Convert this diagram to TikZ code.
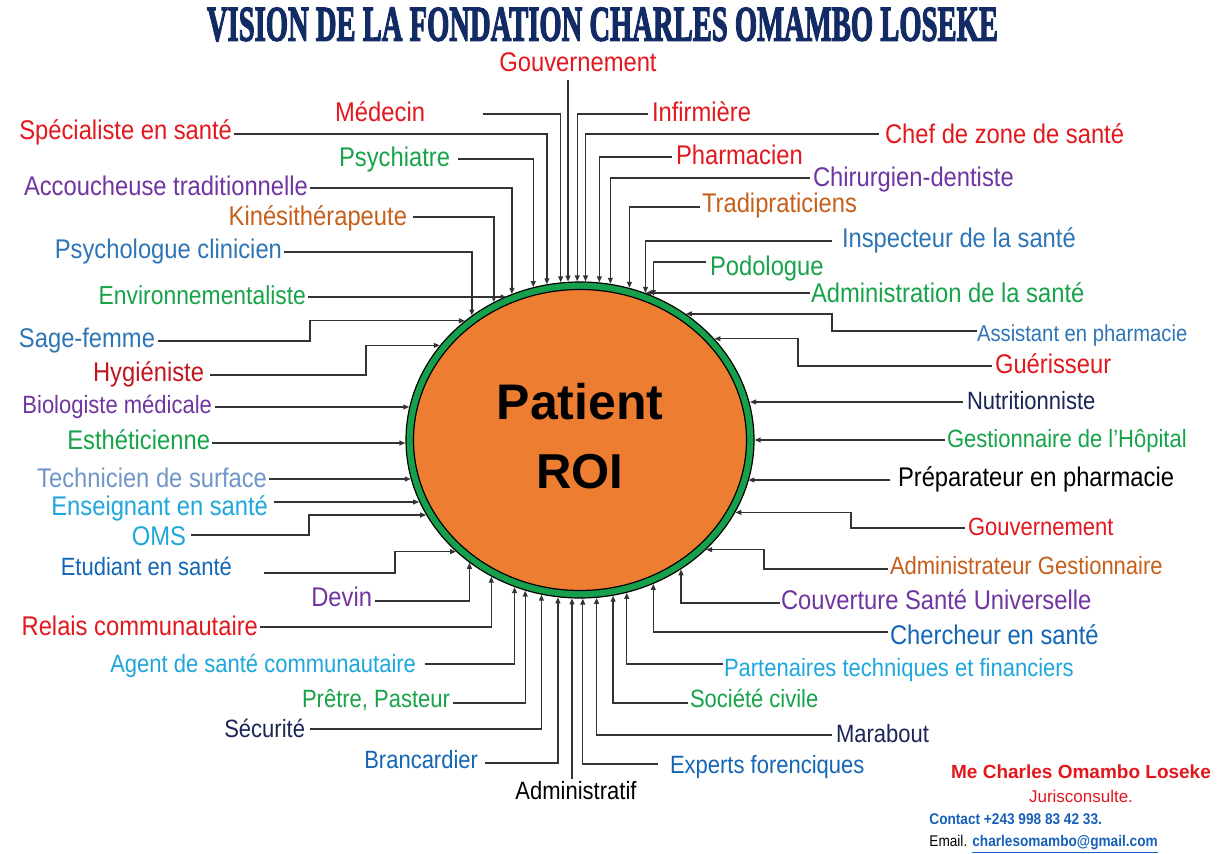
\documentclass[tikz,border=0pt]{standalone}
\usepackage{fontspec}
\usepackage{graphicx}
\setmainfont{Liberation Sans}
\newfontfamily\labfont{Liberation Sans}[FakeStretch=0.88]
\newfontfamily\titlefont{Liberation Serif}[FakeBold=3]
\usetikzlibrary{shapes.geometric,arrows.meta}
\definecolor{labred}{HTML}{E3171E}
\definecolor{labdarkred}{HTML}{C0161E}
\definecolor{labgreen}{HTML}{17A34A}
\definecolor{labpurple}{HTML}{7035A0}
\definecolor{laborange}{HTML}{C65F1C}
\definecolor{labsteel}{HTML}{2E75B6}
\definecolor{labblue}{HTML}{1366B5}
\definecolor{labcyan}{HTML}{1EA7DC}
\definecolor{labnavy}{HTML}{1B2656}
\definecolor{labtech}{HTML}{7095C8}
\definecolor{titleblue}{HTML}{132B64}
\definecolor{ringgreen}{HTML}{16A04B}
\definecolor{patorange}{HTML}{ED7D31}
\definecolor{contactblue}{HTML}{1760B8}
% angle of the ellipse border point (centre 580,440; radii 174,158 px)
\newcommand\angTop[1]{\pgfmathsetmacro\cang{mod(atan2(158*sqrt(1-((#1-580)/174)*((#1-580)/174)),#1-580)+360,360)}}
\newcommand\angBot[1]{\pgfmathsetmacro\cang{mod(atan2(-158*sqrt(1-((#1-580)/174)*((#1-580)/174)),#1-580)+360,360)}}
\newcommand\angLeft[1]{\pgfmathsetmacro\cang{mod(atan2(440-#1,-174*sqrt(1-((440-#1)/158)*((440-#1)/158)))+360,360)}}
\newcommand\angRight[1]{\pgfmathsetmacro\cang{mod(atan2(440-#1,174*sqrt(1-((440-#1)/158)*((440-#1)/158)))+360,360)}}
\tikzset{
  lab/.style={inner sep=0pt, outer sep=0pt, font=\labfont\fontsize{13.5pt}{16pt}\selectfont},
  labs/.style={inner sep=0pt, outer sep=0pt, font=\labfont\fontsize{12.5pt}{15pt}\selectfont},
  lft/.style={anchor=mid east},
  rgt/.style={anchor=mid west},
  arr/.style={draw=black!80, line width=0.7pt, -{Triangle[length=3pt,width=2.4pt]}},
}
\begin{document}
\begin{tikzpicture}[x=0.5pt,y=-0.5pt]
\useasboundingbox (0,0) rectangle (1225,854);
\fill[white] (0,0) rectangle (1225,854);
% title
\node[text=titleblue, inner sep=0pt] (title) at (602.5,24.5)
  {\resizebox{395.5pt}{16.5pt}{\titlefont\bfseries VISION DE LA FONDATION CHARLES OMAMBO LOSEKE}};
% patient
\node[ellipse, draw=black, line width=0.6pt, fill=ringgreen, minimum width=174pt, minimum height=158pt, inner sep=0pt] (patient) at (580,440) {};
\draw[fill=patorange, line width=0.6pt] (patient.center) ellipse [x radius=83.25pt, y radius=75.25pt];
\node[font=\fontsize{25pt}{30pt}\selectfont\bfseries] (pt) at (580,402) {Patient};
\node[font=\fontsize{24.5pt}{30pt}\selectfont\bfseries] (roi) at (580,472) {ROI};
% ---- labels top-left
\node[lab,lft,text=labred] (spec) at (232,134) {Spécialiste en santé};
\node[lab,lft,text=labred] (med) at (425,116) {Médecin};
\node[lab,lft,text=labgreen] (psy) at (450,161) {Psychiatre};
\node[lab,lft,text=labpurple] (acc) at (308,190) {Accoucheuse traditionnelle};
\node[lab,lft,text=laborange] (kin) at (407,220) {Kinésithérapeute};
\node[lab,lft,text=labsteel] (psc) at (282,253) {Psychologue clinicien};
\node[lab,lft,text=labgreen,font=\labfont\fontsize{13pt}{15pt}\selectfont] (env) at (306,299) {Environnementaliste};
% ---- top
\node[lab,text=labred,anchor=base] (gov1) at (578,72) {Gouvernement};
% ---- top-right
\node[lab,rgt,text=labred] (inf) at (652,116) {Infirmière};
\node[lab,rgt,text=labred] (chef) at (885,138) {Chef de zone de santé};
\node[lab,rgt,text=labred] (pha) at (676,159) {Pharmacien};
\node[lab,rgt,text=labpurple] (chi) at (813,181) {Chirurgien-dentiste};
\node[lab,rgt,text=laborange] (tra) at (702,207) {Tradipraticiens};
\node[lab,rgt,text=labsteel] (ins) at (842,242) {Inspecteur de la santé};
\node[lab,rgt,text=labgreen] (pod) at (710,270) {Podologue};
\node[lab,rgt,text=labgreen] (adm) at (811,297) {Administration de la santé};
% ---- right
\node[lab,rgt,text=labsteel,font=\labfont\fontsize{11.5pt}{14pt}\selectfont] (ast) at (977,336) {Assistant en pharmacie};
\node[lab,rgt,text=labred] (gue) at (995,368) {Guérisseur};
\node[labs,rgt,text=labnavy] (nut) at (967,404) {Nutritionniste};
\node[labs,rgt,text=labgreen] (ges) at (947,442) {Gestionnaire de l’Hôpital};
\node[lab,rgt,text=black] (pre) at (898,481) {Préparateur en pharmacie};
\node[labs,rgt,text=labred] (gov2) at (968,530) {Gouvernement};
\node[labs,rgt,text=laborange] (adg) at (890,569) {Administrateur Gestionnaire};
% ---- bottom-right
\node[lab,rgt,text=labpurple] (cou) at (781,604) {Couverture Santé Universelle};
\node[lab,rgt,text=labblue] (che) at (890,639) {Chercheur en santé};
\node[labs,rgt,text=labcyan] (par) at (724,671) {Partenaires techniques et financiers};
\node[labs,rgt,text=labgreen] (soc) at (690,702) {Société civile};
\node[labs,rgt,text=labnavy] (mar) at (836,737) {Marabout};
\node[labs,rgt,text=labblue] (exp) at (670,768) {Experts forenciques};
\node[labs,text=black,anchor=base] (adf) at (576,799) {Administratif};
% ---- bottom-left
\node[labs,lft,text=labblue] (bra) at (478,763) {Brancardier};
\node[labs,lft,text=labnavy] (sec) at (305,732) {Sécurité};
\node[labs,lft,text=labgreen] (pre2) at (450,702) {Prêtre, Pasteur};
\node[labs,lft,text=labcyan] (agc) at (416,667) {Agent de santé communautaire};
\node[lab,lft,text=labred] (rel) at (258,630) {Relais communautaire};
\node[lab,lft,text=labpurple] (dev) at (372,601) {Devin};
% ---- left
\node[labs,lft,text=labblue] (etu) at (232,570) {Etudiant en santé};
\node[lab,lft,text=labcyan] (oms) at (186,540) {OMS};
\node[lab,lft,text=labcyan] (ens) at (268,510) {Enseignant en santé};
\node[lab,lft,text=labtech] (tec) at (267,482) {Technicien de surface};
\node[lab,lft,text=labgreen] (est) at (210,444) {Esthéticienne};
\node[labs,lft,text=labpurple] (bio) at (212,408) {Biologiste médicale};
\node[lab,lft,text=labdarkred] (hyg) at (204,376) {Hygiéniste};
\node[lab,lft,text=labsteel] (sag) at (155,342) {Sage-femme};
% ================= connectors
% top-left
\angTop{546}\draw[arr] (spec.mid east) ++(2,0) -| (patient.\cang);
\angTop{558}\draw[arr] (med.mid east) ++(58,-2) -| (patient.\cang);
\angTop{533}\draw[arr] (psy.mid east) ++(8,-2) -| (patient.\cang);
\angTop{512}\draw[arr] (acc.mid east) ++(2,-2) -| (patient.\cang);
\angTop{492}\draw[arr] (kin.mid east) ++(6,-3) -| (patient.\cang);
\angTop{471}\draw[arr] (psc.mid east) ++(2,-1) -| (patient.\cang);
\angLeft{297}\draw[arr] (env.mid east) ++(2,-2) coordinate (s) -- (s -| patient.\cang);
% top
\angTop{568}\draw[arr] (gov1.base) ++(-10,8) coordinate (s) -- (s |- patient.\cang);
% top-right
\angTop{576}\draw[arr] (inf.mid west) ++(-4,-2) -| (patient.\cang);
\angTop{585}\draw[arr] (chef.mid west) ++(-6,-4) -| (patient.\cang);
\angTop{597}\draw[arr] (pha.mid west) ++(-4,-2) -| (patient.\cang);
\angTop{610}\draw[arr] (chi.mid west) ++(-3,-3) -| (patient.\cang);
\angTop{628}\draw[arr] (tra.mid west) ++(-2,0) -| (patient.\cang);
\angTop{643}\draw[arr] (ins.mid west) ++(-10,-1) -| (patient.\cang);
\angTop{652}\draw[arr] (pod.mid west) ++(-4,-8) -| (patient.\cang);
\angRight{293}\draw[arr] (adm.mid west) ++(-1,-4) coordinate (s) -- (s -| patient.\cang);
% right
\angRight{313}\draw[arr] (ast.mid west) ++(0,-5) -- ++(-145,0) |- (patient.\cang);
\angRight{337}\draw[arr] (gue.mid west) ++(-3,-2) -- ++(-194,0) |- (patient.\cang);
\angRight{402}\draw[arr] (nut.mid west) ++(-4,-2) coordinate (s) -- (s -| patient.\cang);
\angRight{440}\draw[arr] (ges.mid west) ++(-2,-2) coordinate (s) -- (s -| patient.\cang);
\angRight{480}\draw[arr] (pre.mid west) ++(-8,-1) coordinate (s) -- (s -| patient.\cang);
\angRight{510}\draw[arr] (gov2.mid west) ++(-3,-2) -- ++(-114,0) |- (patient.\cang);
\angRight{548}\draw[arr] (adg.mid west) ++(-2,0) -- ++(-124,0) |- (patient.\cang);
% bottom-right
\angBot{682}\draw[arr] (cou.mid west) ++(-1,-1) -| (patient.\cang);
\angBot{654}\draw[arr] (che.mid west) ++(-2,-7) -| (patient.\cang);
\angBot{629}\draw[arr] (par.mid west) ++(-1,-7) -| (patient.\cang);
\angBot{613}\draw[arr] (soc.mid west) ++(-2,1) -| (patient.\cang);
\angBot{598}\draw[arr] (mar.mid west) ++(-4,-2) -| (patient.\cang);
\angBot{583}\draw[arr] (exp.mid west) ++(-12,-4) -| (patient.\cang);
\angBot{572}\draw[arr] (adf.north) ++(-4,-2) coordinate (s) -- (s |- patient.\cang);
% bottom-left
\angBot{559}\draw[arr] (bra.mid east) ++(7,0) -| (patient.\cang);
\angBot{544}\draw[arr] (sec.mid east) ++(5,-3) -| (patient.\cang);
\angBot{528}\draw[arr] (pre2.mid east) ++(3,1) -| (patient.\cang);
\angBot{517}\draw[arr] (agc.mid east) ++(9,-3) -| (patient.\cang);
\angBot{493}\draw[arr] (rel.mid east) ++(2,-3) -| (patient.\cang);
\angBot{470}\draw[arr] (dev.mid east) ++(3,0) -| (patient.\cang);
% left
\angLeft{553}\draw[arr] (etu.mid east) ++(32,3) -- ++(131,0) |- (patient.\cang);
\angLeft{517}\draw[arr] (oms.mid east) ++(5,-5) -- ++(118,0) |- (patient.\cang);
\angLeft{502}\draw[arr] (ens.mid east) ++(6,-8) coordinate (s) -- (s -| patient.\cang);
\angLeft{479}\draw[arr] (tec.mid east) ++(2,-3) coordinate (s) -- (s -| patient.\cang);
\angLeft{443}\draw[arr] (est.mid east) ++(2,-1) coordinate (s) -- (s -| patient.\cang);
\angLeft{407}\draw[arr] (bio.mid east) ++(3,-1) coordinate (s) -- (s -| patient.\cang);
\angLeft{346}\draw[arr] (hyg.mid east) ++(6,-1) -- ++(156,0) |- (patient.\cang);
\angLeft{322}\draw[arr] (sag.mid east) ++(3,-1) -- ++(152,0) |- (patient.\cang);
% contact block
\node[font=\fontsize{9.5pt}{11pt}\selectfont\bfseries, text=labred, anchor=base, inner sep=0pt] (me) at (1081,778) {Me Charles Omambo Loseke};
\node[font=\fontsize{8.5pt}{10pt}\selectfont, text=labred, anchor=base, inner sep=0pt] (jur) at (1081,802) {Jurisconsulte.};
\node[font=\labfont\fontsize{7.75pt}{9pt}\selectfont\bfseries, text=contactblue, anchor=base west, inner sep=0pt] (cont) at (929,824) {Contact +243 998 83 42 33.};
\node[font=\labfont\fontsize{7.75pt}{9pt}\selectfont, anchor=base west, inner sep=0pt] (mail) at (929,846) {Email. \textcolor{contactblue}{\bfseries\underline{charlesomambo@gmail.com}}};
\end{tikzpicture}
\end{document}
